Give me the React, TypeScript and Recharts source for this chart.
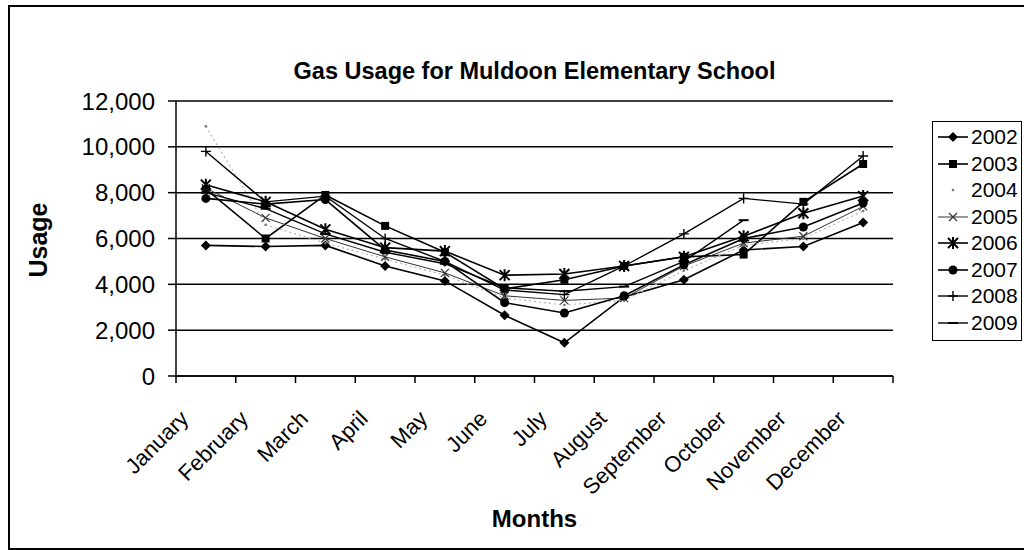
import React from 'react';
import { LineChart, Line, XAxis, YAxis, CartesianGrid } from 'recharts';

const months = [
  'January', 'February', 'March', 'April', 'May', 'June',
  'July', 'August', 'September', 'October', 'November', 'December'
];

// monthly gas usage
const usage2002 = [5700, 5650, 5700, 4800, 4150, 2650, 1450, 3450, 4200, 5500, 5650, 6700];
const usage2003 = [8150, 6000, 7900, 6550, 5400, 3800, 4200, 4800, 5200, 5300, 7600, 9250];
const usage2004 = [10900, 6600, 5800, 5100, 4400, 3400, 3100, 3300, 4600, 5700, 6000, 7200];
const usage2005 = [8200, 6900, 6000, 5200, 4500, 3500, 3300, 3400, 4800, 5800, 6100, 7400];
const usage2006 = [8350, 7600, 6400, 5600, 5450, 4400, 4450, 4800, 5200, 6100, 7100, 7850];
const usage2007 = [7750, 7500, 7700, 5500, 5000, 3200, 2750, 3500, 4850, 6000, 6500, 7550];
const usage2008 = [9800, 7600, 7850, 6000, 5000, 3750, 3550, 4800, 6200, 7750, 7500, 9600];
const usage2009 = [8000, 7300, 6200, 5400, 4900, 3850, 3700, 3900, 5000, 6800, null, null];

const yTicks = [0, 2000, 4000, 6000, 8000, 10000, 12000];

type Shape = 'diamond' | 'square' | 'dot' | 'cross' | 'star' | 'circle' | 'plus' | 'dash';

const seriesList: { name: string; values: (number | null)[]; shape: Shape; color: string; dash?: string; width: number }[] = [
  { name: '2002', values: usage2002, shape: 'diamond', color: '#000', width: 1.6 },
  { name: '2003', values: usage2003, shape: 'square', color: '#000', width: 1.6 },
  { name: '2004', values: usage2004, shape: 'dot', color: '#b5b5b5', dash: '2 3', width: 1.2 },
  { name: '2005', values: usage2005, shape: 'cross', color: '#333', width: 1 },
  { name: '2006', values: usage2006, shape: 'star', color: '#000', width: 1.6 },
  { name: '2007', values: usage2007, shape: 'circle', color: '#000', width: 1.6 },
  { name: '2008', values: usage2008, shape: 'plus', color: '#000', width: 1.4 },
  { name: '2009', values: usage2009, shape: 'dash', color: '#000', width: 1.4 }
];

const chartData = months.map((month, i) => {
  const row: Record<string, string | number | null> = { month };
  seriesList.forEach(s => { row[s.name] = s.values[i]; });
  return row;
});

const PLOT_LEFT = 176;
const PLOT_RIGHT = 893;
const PLOT_TOP = 101;
const PLOT_BOTTOM = 376;
const BAND = (PLOT_RIGHT - PLOT_LEFT) / months.length;
const FONT = '"Liberation Sans", Arial, sans-serif';

function markerShape(shape: Shape, cx: number, cy: number, color: string) {
  switch (shape) {
    case 'diamond':
      return <path d={`M${cx},${cy - 5}L${cx + 5},${cy}L${cx},${cy + 5}L${cx - 5},${cy}Z`} fill="#000" />;
    case 'square':
      return <rect x={cx - 4} y={cy - 4} width={8} height={8} fill="#000" />;
    case 'dot':
      return <circle cx={cx} cy={cy} r={1.3} fill="#777" />;
    case 'cross':
      return <path d={`M${cx - 4},${cy - 4}L${cx + 4},${cy + 4}M${cx - 4},${cy + 4}L${cx + 4},${cy - 4}`} stroke={color} strokeWidth={1.2} />;
    case 'star':
      return (
        <path
          d={`M${cx - 5},${cy - 5}L${cx + 5},${cy + 5}M${cx - 5},${cy + 5}L${cx + 5},${cy - 5}M${cx},${cy - 6}L${cx},${cy + 6}`}
          stroke="#000"
          strokeWidth={2}
        />
      );
    case 'circle':
      return <circle cx={cx} cy={cy} r={4.5} fill="#000" />;
    case 'plus':
      return <path d={`M${cx - 5},${cy}L${cx + 5},${cy}M${cx},${cy - 5}L${cx},${cy + 5}`} stroke="#000" strokeWidth={1.4} />;
    case 'dash':
      return <path d={`M${cx - 5},${cy}L${cx + 5},${cy}`} stroke="#000" strokeWidth={2} />;
  }
  return null;
}

// Excel-style: tick marks sit between categories, labels slanted 45 degrees
const MonthTick = (props: any) => {
  const { x, y, payload, index } = props;
  const tx = x - 16;
  const ty = y + 44;
  return (
    <g>
      <line x1={x - BAND / 2} y1={y} x2={x - BAND / 2} y2={y + 7} stroke="#000" strokeWidth={1.5} />
      {index === months.length - 1 && (
        <line x1={x + BAND / 2} y1={y} x2={x + BAND / 2} y2={y + 7} stroke="#000" strokeWidth={1.5} />
      )}
      <text
        x={tx}
        y={ty}
        transform={`rotate(-45 ${tx} ${ty})`}
        textAnchor="end"
        fontFamily={FONT}
        fontSize={22}
        fill="#000"
      >
        {payload.value}
      </text>
    </g>
  );
};

const LegendBox = () => (
  <div
    style={{
      position: 'absolute',
      left: 932,
      top: 121,
      width: 88,
      border: '1.5px solid #000',
      background: '#fff',
      padding: '2px 0 4px 0',
      fontFamily: FONT,
      fontSize: 21
    }}
  >
    {seriesList.map(s => (
      <div key={s.name} style={{ display: 'flex', alignItems: 'center', height: 26.5 }}>
        <svg width={34} height={14} style={{ marginLeft: 3 }}>
          {s.shape !== 'dot' && (
            <line x1={2} y1={7} x2={32} y2={7} stroke={s.color} strokeWidth={s.width} strokeDasharray={s.dash} />
          )}
          {markerShape(s.shape, 17, 7, s.color)}
        </svg>
        <span style={{ marginLeft: 1 }}>{s.name}</span>
      </div>
    ))}
  </div>
);

export default function App() {
  return (
    <div style={{ position: 'fixed', left: 0, top: 0, width: 1024, height: 550, background: '#fff', overflow: 'hidden' }}>
      <div
        style={{
          position: 'absolute',
          left: 8,
          top: 5,
          width: 1040,
          height: 541,
          border: '2px solid #000'
        }}
      />
      <div
        style={{
          position: 'absolute',
          left: PLOT_LEFT - 40,
          width: PLOT_RIGHT - PLOT_LEFT + 80,
          top: 58,
          textAlign: 'center',
          fontFamily: FONT,
          fontWeight: 'bold',
          fontSize: 23.5
        }}
      >
        Gas Usage for Muldoon Elementary School
      </div>
      <div
        style={{
          position: 'absolute',
          left: 38,
          top: 240,
          transform: 'translate(-50%, -50%) rotate(-90deg)',
          fontFamily: FONT,
          fontWeight: 'bold',
          fontSize: 25
        }}
      >
        Usage
      </div>
      <div
        style={{
          position: 'absolute',
          left: PLOT_LEFT,
          width: PLOT_RIGHT - PLOT_LEFT,
          top: 505,
          textAlign: 'center',
          fontFamily: FONT,
          fontWeight: 'bold',
          fontSize: 24
        }}
      >
        Months
      </div>
      <div style={{ position: 'absolute', left: 0, top: 0 }}>
        <LineChart
          width={1024}
          height={550}
          data={chartData}
          margin={{ top: PLOT_TOP, right: 1024 - PLOT_RIGHT, left: PLOT_LEFT - 80, bottom: 550 - PLOT_BOTTOM - 60 }}
        >
          <CartesianGrid vertical={false} stroke="#000" strokeWidth={1.5} />
          <XAxis
            dataKey="month"
            scale="band"
            height={60}
            interval={0}
            tickSize={0}
            tickMargin={0}
            axisLine={{ stroke: '#000', strokeWidth: 1.5 }}
            tickLine={false}
            tick={<MonthTick />}
          />
          <YAxis
            width={80}
            domain={[0, 12000]}
            ticks={yTicks}
            interval={0}
            tickSize={8}
            tickMargin={13}
            axisLine={{ stroke: '#000', strokeWidth: 1.5 }}
            tickLine={{ stroke: '#000', strokeWidth: 1.5 }}
            tick={{ fill: '#000', fontSize: 24, fontFamily: FONT }}
            tickFormatter={(v: number) => v.toLocaleString('en-US')}
          />
          <YAxis
            yAxisId="r"
            orientation="right"
            width={0}
            domain={[0, 12000]}
            tick={false}
            tickLine={false}
            axisLine={{ stroke: '#000', strokeWidth: 1.5 }}
          />
          {seriesList.map(s => (
            <Line
              key={s.name}
              dataKey={s.name}
              type="linear"
              stroke={s.color}
              strokeWidth={s.width}
              strokeDasharray={s.dash}
              connectNulls={false}
              isAnimationActive={false}
              activeDot={false}
              dot={(p: any) => (
                <g key={`${s.name}-${p.index}`}>
                  {p.cx != null && p.cy != null && p.value != null ? markerShape(s.shape, p.cx, p.cy, s.color) : null}
                </g>
              )}
            />
          ))}
        </LineChart>
      </div>
      <LegendBox />
    </div>
  );
}
